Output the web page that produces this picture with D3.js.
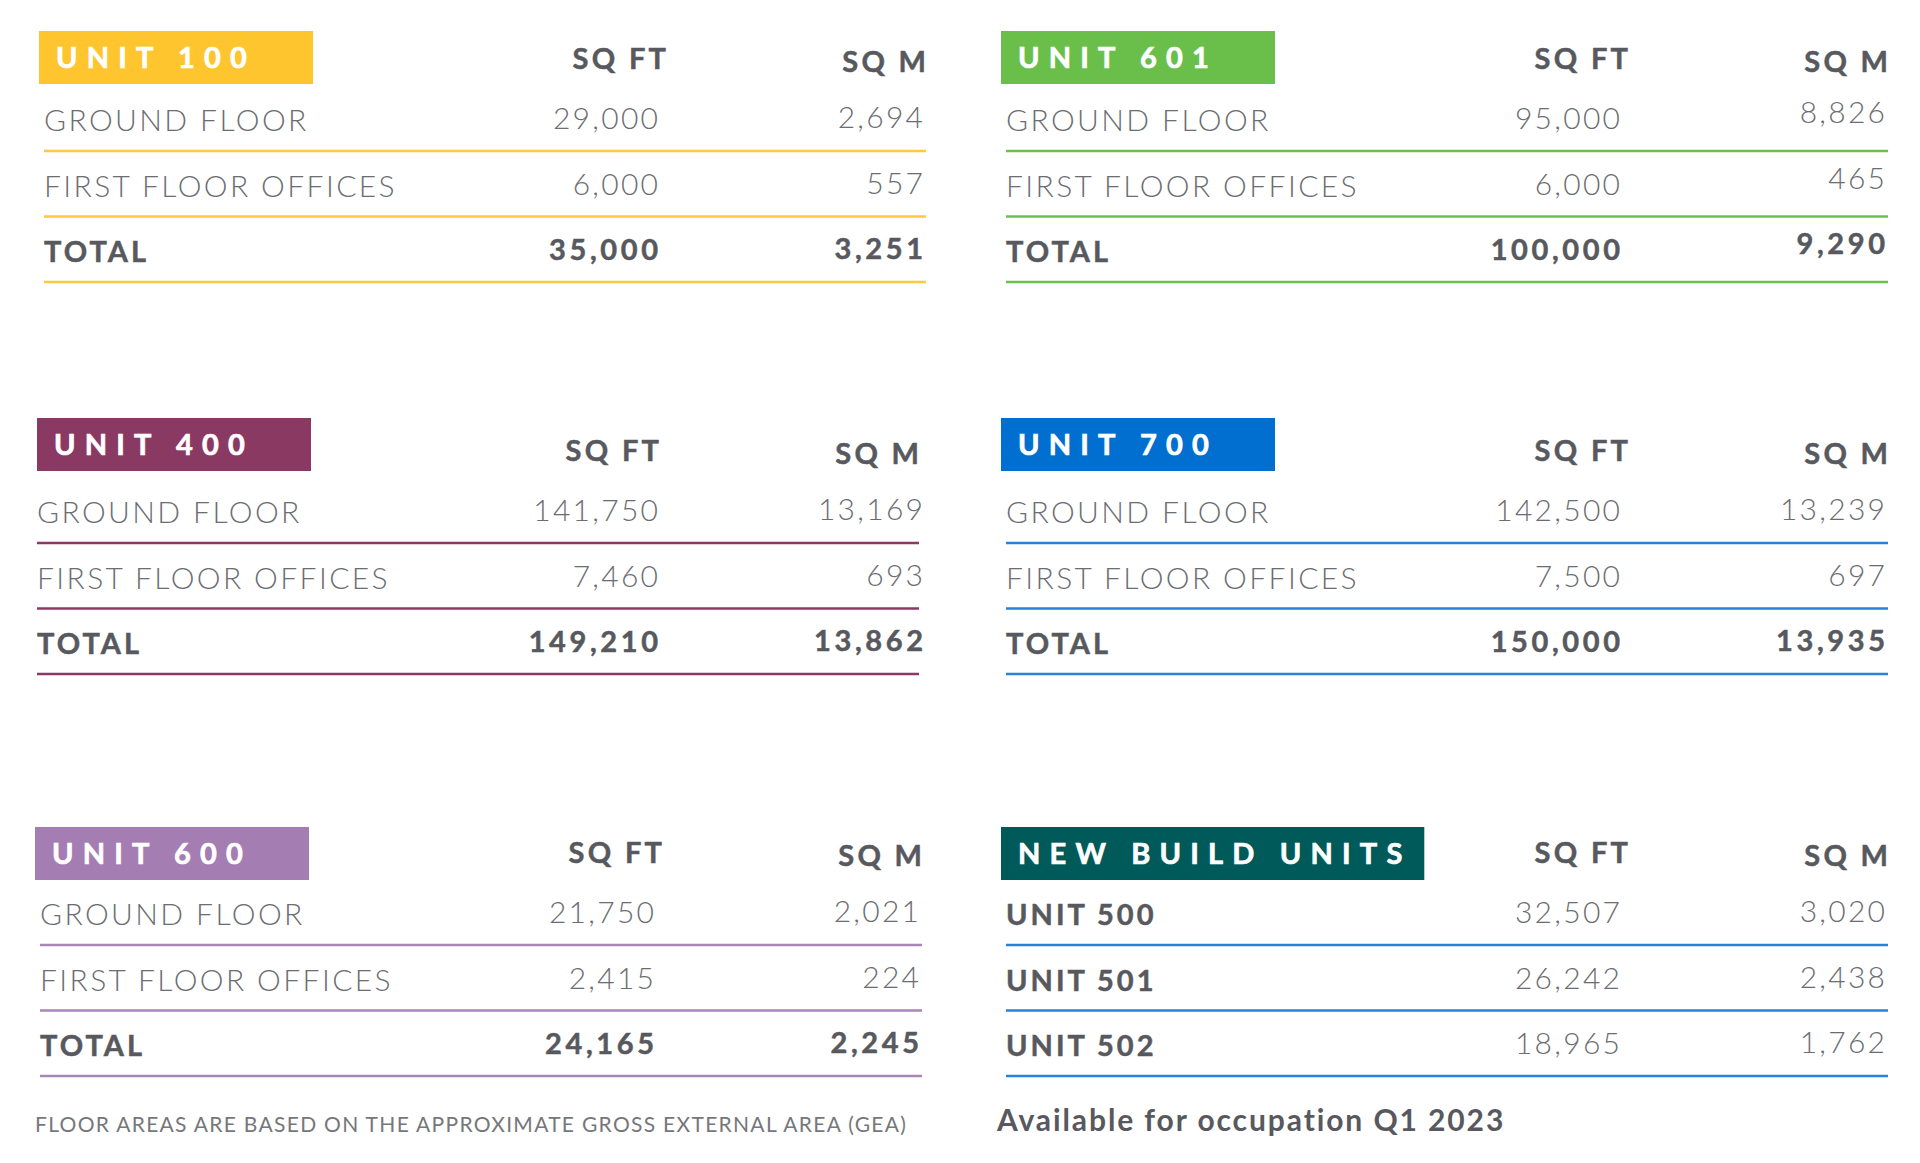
<!DOCTYPE html>
<html>
<head>
<meta charset="utf-8">
<script src="https://cdn.jsdelivr.net/npm/d3@7"></script>
<style>
  html, body { margin: 0; padding: 0; background: #ffffff; }
  svg { display: block; }
</style>
</head>
<body>
<svg id="chart" width="1920" height="1163"></svg>
<script>
// ---------------- DATA ----------------
const panelTitles = ["UNIT 100", "UNIT 601", "UNIT 400", "UNIT 700", "UNIT 600", "NEW BUILD UNITS"];
const columnHeaders = ["SQ FT", "SQ M"];
const rowLabels = [
  ["GROUND FLOOR", "FIRST FLOOR OFFICES", "TOTAL"],
  ["GROUND FLOOR", "FIRST FLOOR OFFICES", "TOTAL"],
  ["GROUND FLOOR", "FIRST FLOOR OFFICES", "TOTAL"],
  ["GROUND FLOOR", "FIRST FLOOR OFFICES", "TOTAL"],
  ["GROUND FLOOR", "FIRST FLOOR OFFICES", "TOTAL"],
  ["UNIT 500", "UNIT 501", "UNIT 502"]
];
const sqftValues = [
  [29000, 6000, 35000],
  [95000, 6000, 100000],
  [141750, 7460, 149210],
  [142500, 7500, 150000],
  [21750, 2415, 24165],
  [32507, 26242, 18965]
];
const sqmValues = [
  [2694, 557, 3251],
  [8826, 465, 9290],
  [13169, 693, 13862],
  [13239, 697, 13935],
  [2021, 224, 2245],
  [3020, 2438, 1762]
];
const footnoteText = "FLOOR AREAS ARE BASED ON THE APPROXIMATE GROSS EXTERNAL AREA (GEA)";
const availabilityText = "Available for occupation Q1 2023";

// ---------------- STYLE ----------------
const boxFill = ["#FFC52E", "#6ABF4B", "#8A3A62", "#006FCF", "#A47DB3", "#005A5A"];
const lineColor = ["#FFC83D", "#6DC04C", "#8A3A62", "#2683D9", "#A985B8", "#2683D9"];
const darkText = "#57595e";
const lightText = "#6b6d72";
const FONT = "Lato, 'Open Sans', sans-serif";

// ---------------- LAYOUT ----------------
const svg = d3.select("#chart");
const fmt = d3.format(",");

const colX = d3.scaleBand().domain([0, 1]).range([39, 39 + 2 * 962]);
// small per-row horizontal nudges of the left column (labels/lines/headers), box and numbers
const leftColNudge = d3.scaleOrdinal().domain([0, 1, 2]).range([0, -7, -4]);
const leftBoxFix = d3.scaleOrdinal().domain([0, 1, 2]).range([0, 5, 0]);
const leftNumFix = d3.scaleOrdinal().domain([0, 1, 2]).range([0, 7, 0]);
const firstLineY = d3.scaleOrdinal().domain([0, 1, 2]).range([151, 543, 945]);
const boxTopY = d3.scaleOrdinal().domain([0, 1, 2]).range([31, 418, 827]);
const rowY = d3.scaleLinear().domain([0, 1]).range([0, 65.5]);

const panels = panelTitles.map((t, i) => ({
  title: t, i, col: i % 2, row: Math.floor(i / 2),
  labels: rowLabels[i], sqft: sqftValues[i], sqm: sqmValues[i]
}));

const g = svg.selectAll("g.panel").data(panels).join("g")
  .attr("class", "panel")
  .attr("transform", d => `translate(${colX(d.col) + (d.col === 0 ? leftColNudge(d.row) : 0)},0)`);

const boxShift = d => d.col === 0 ? leftBoxFix(d.row) : 0;
const numShift = d => d.col === 0 ? leftNumFix(d.row) : 0;

// title boxes
const titleLS = 9.2;
g.each(function(d) {
  const sel = d3.select(this);
  const top = boxTopY(d.row);
  const bx = boxShift(d);
  const rect = sel.append("rect")
    .attr("x", bx).attr("y", top).attr("height", 53)
    .attr("fill", boxFill[d.i]);
  const txt = sel.append("text")
    .attr("x", bx + 17).attr("y", top + 37)
    .attr("font-family", FONT).attr("font-weight", 700)
    .attr("font-size", 29).attr("letter-spacing", titleLS)
    .attr("fill", "#ffffff")
    .attr("stroke", "#ffffff").attr("stroke-width", 0.7)
    .text(d.title);
  const w = txt.node().getComputedTextLength();
  rect.attr("width", Math.max(274, w + 17 + 22 - titleLS));
});

// column headers
const sqftRight = 619, sqmRight = 884;
const headLS = 3.3;
g.each(function(d) {
  const sel = d3.select(this);
  const l1 = firstLineY(d.row);
  sel.append("text")
    .attr("x", 627 + headLS).attr("y", l1 - 82)
    .attr("text-anchor", "end")
    .attr("font-family", FONT).attr("font-weight", 700)
    .attr("font-size", 29).attr("letter-spacing", headLS)
    .attr("fill", darkText).attr("stroke", darkText).attr("stroke-width", 0.5)
    .text(columnHeaders[0]);
  sel.append("text")
    .attr("x", 887 + headLS).attr("y", l1 - 79)
    .attr("text-anchor", "end")
    .attr("font-family", FONT).attr("font-weight", 700)
    .attr("font-size", 29).attr("letter-spacing", headLS)
    .attr("fill", darkText).attr("stroke", darkText).attr("stroke-width", 0.5)
    .text(columnHeaders[1]);
});

// rows
g.each(function(d) {
  const sel = d3.select(this);
  const l1 = firstLineY(d.row);
  const ns = numShift(d);
  const rows = d.labels.map((lab, k) => ({
    lab, k, sqft: d.sqft[k], sqm: d.sqm[k],
    bold: d.i === 5 ? true : k === 2,
    boldNums: d.i !== 5 && k === 2
  }));
  const rg = sel.selectAll("g.row").data(rows).join("g").attr("class", "row")
    .attr("transform", r => `translate(0,${l1 + rowY(r.k)})`);

  rg.append("line")
    .attr("x1", 5).attr("x2", 887)
    .attr("y1", 0).attr("y2", 0)
    .attr("stroke", lineColor[d.i]).attr("stroke-width", 2.6);

  rg.append("text")
    .attr("x", 5).attr("y", -20)
    .attr("font-family", FONT)
    .attr("font-weight", r => r.bold ? 700 : 300)
    .attr("font-size", r => r.bold ? 29 : 30)
    .attr("letter-spacing", r => r.bold ? 3.0 : 2.4)
    .attr("fill", r => r.bold ? darkText : lightText)
    .attr("stroke", r => r.bold ? darkText : "none")
    .attr("stroke-width", 0.5)
    .text(r => r.lab);

  const numLS = r => r.boldNums ? 3.6 : 2.3;
  rg.append("text")
    .attr("x", r => ns + sqftRight + numLS(r)).attr("y", -22)
    .attr("text-anchor", "end")
    .attr("font-family", FONT)
    .attr("font-weight", r => r.boldNums ? 700 : 300)
    .attr("font-size", r => r.boldNums ? 29 : 30)
    .attr("letter-spacing", numLS)
    .attr("fill", r => r.boldNums ? darkText : lightText)
    .attr("stroke", r => r.boldNums ? darkText : "none")
    .attr("stroke-width", 0.5)
    .text(r => fmt(r.sqft));

  rg.append("text")
    .attr("x", r => ns + sqmRight + numLS(r)).attr("y", r => d.i === 1 ? -28 : -23)
    .attr("text-anchor", "end")
    .attr("font-family", FONT)
    .attr("font-weight", r => r.boldNums ? 700 : 300)
    .attr("font-size", r => r.boldNums ? 29 : 30)
    .attr("letter-spacing", numLS)
    .attr("fill", r => r.boldNums ? darkText : lightText)
    .attr("stroke", r => r.boldNums ? darkText : "none")
    .attr("stroke-width", 0.5)
    .text(r => fmt(r.sqm));
});

// footnotes
svg.append("text")
  .attr("x", colX(0) - 4).attr("y", 1132)
  .attr("font-family", FONT).attr("font-weight", 400)
  .attr("font-size", 21).attr("letter-spacing", 1.3)
  .attr("fill", "#75777b")
  .text(footnoteText);

svg.append("text")
  .attr("x", colX(1) - 4).attr("y", 1131)
  .attr("font-family", FONT).attr("font-weight", 700)
  .attr("font-size", 30).attr("letter-spacing", 1.9)
  .attr("fill", darkText)
  .text(availabilityText);
</script>
</body>
</html>
